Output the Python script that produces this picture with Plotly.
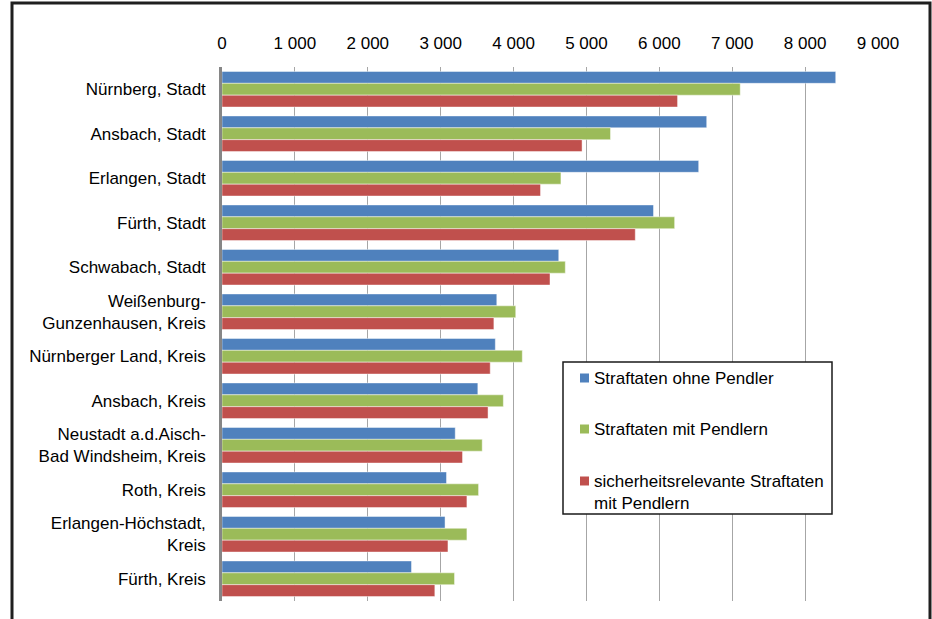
import plotly.graph_objects as go

# Kreise / kreisfreie Städte
regions = [
    "Nürnberg, Stadt",
    "Ansbach, Stadt",
    "Erlangen, Stadt",
    "Fürth, Stadt",
    "Schwabach, Stadt",
    "Weißenburg-<br>Gunzenhausen, Kreis",
    "Nürnberger Land, Kreis",
    "Ansbach, Kreis",
    "Neustadt a.d.Aisch-<br>Bad Windsheim, Kreis",
    "Roth, Kreis",
    "Erlangen-Höchstadt,<br>Kreis",
    "Fürth, Kreis",
]

ohne_pendler = [8420, 6650, 6540, 5920, 4620, 3770, 3750, 3510, 3200, 3080, 3060, 2600]
mit_pendlern = [7110, 5330, 4650, 6210, 4710, 4030, 4120, 3860, 3570, 3520, 3360, 3190]
sicherheitsrelevant = [6250, 4940, 4370, 5670, 4500, 3730, 3680, 3650, 3300, 3360, 3100, 2920]

tick_vals = [0, 1000, 2000, 3000, 4000, 5000, 6000, 7000, 8000, 9000]
tick_text = ["0", "1 000", "2 000", "3 000", "4 000", "5 000", "6 000", "7 000", "8 000", "9 000"]

series_names = [
    "Straftaten ohne Pendler",
    "Straftaten mit Pendlern",
    "sicherheitsrelevante Straftaten<br>mit Pendlern",
]
series_values = [ohne_pendler, mit_pendlern, sicherheitsrelevant]
series_colors = ["#4F81BD", "#9BBB59", "#C0504D"]

W, H = 932, 619
ML, MR, MT, MB = 222, 54, 67, 18
PW, PH = W - ML - MR, H - MT - MB
FONT = "Liberation Sans, Arial, sans-serif"


def px_x(p):
    return (p - ML) / PW


def px_y(p):
    return 1 - (p - MT) / PH


fig = go.Figure()
for name, vals, color in zip(series_names, series_values, series_colors):
    fig.add_trace(go.Bar(
        y=regions, x=vals, name=name, orientation="h",
        marker=dict(color=color, line=dict(color="rgba(255,255,255,0.45)", width=1)),
        showlegend=False,
    ))

# Legend box with colour keys and labels
shapes = [dict(
    type="rect", xref="paper", yref="paper",
    x0=px_x(563), x1=px_x(832), y0=px_y(514), y1=px_y(362),
    line=dict(color="#1a1a1a", width=1.5), fillcolor="white", layer="above",
)]
annotations = []
key_rows = [378, 429, 481]
for (name, color, row) in zip(series_names, series_colors, key_rows):
    shapes.append(dict(
        type="rect", xref="paper", yref="paper",
        x0=px_x(580), x1=px_x(589), y0=px_y(row + 4.5), y1=px_y(row - 4.5),
        line=dict(width=0), fillcolor=color, layer="above",
    ))
    annotations.append(dict(
        xref="paper", yref="paper", x=px_x(592), y=px_y(row - 11),
        xanchor="left", yanchor="top", align="left", showarrow=False,
        text=name, font=dict(size=17, color="black"),
    ))

# outer frame
shapes.append(dict(
    type="rect", xref="paper", yref="paper",
    x0=px_x(12), x1=px_x(930), y0=px_y(640), y1=px_y(3),
    line=dict(color="#1f1f1f", width=3), layer="above",
))

fig.update_layout(
    width=W, height=H,
    margin=dict(l=ML, r=MR, t=MT, b=MB),
    paper_bgcolor="white", plot_bgcolor="white",
    font=dict(family=FONT, size=17, color="black"),
    barmode="group", bargap=0.2, bargroupgap=0,
    xaxis=dict(
        side="top", range=[0, 9000], tickvals=tick_vals, ticktext=tick_text,
        showgrid=True, gridcolor="#A6A6A6", gridwidth=1.2,
        zeroline=False, showline=False, ticks="", ticklabelstandoff=14,
        tickfont=dict(size=17),
    ),
    yaxis=dict(
        autorange="reversed", showgrid=False, showline=True,
        linecolor="#868686", linewidth=2.5, ticks="", ticklabelstandoff=10,
        tickfont=dict(size=17),
    ),
    showlegend=False,
    shapes=shapes,
    annotations=annotations,
)

fig.write_html("out.html")
